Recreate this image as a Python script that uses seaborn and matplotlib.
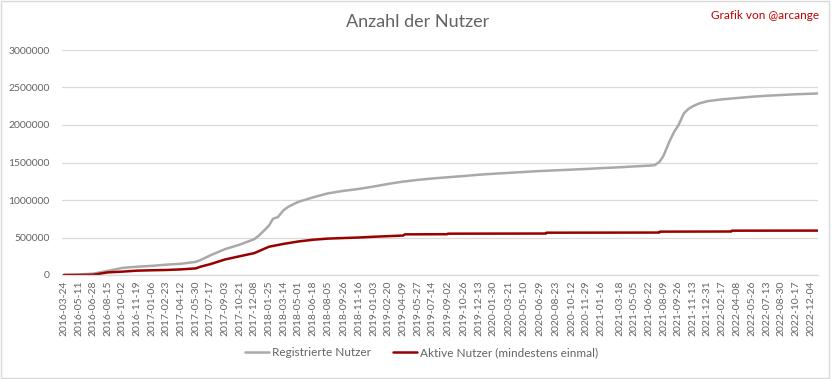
import matplotlib
matplotlib.use("Agg")
import matplotlib.pyplot as plt
import seaborn as sns
import pandas as pd
from matplotlib.ticker import FuncFormatter
from matplotlib.patches import Rectangle

# ---------------- data ----------------
tick_labels = [
    "2016-03-24", "2016-05-11", "2016-06-28", "2016-08-15", "2016-10-02", "2016-11-19",
    "2017-01-06", "2017-02-23", "2017-04-12", "2017-05-30", "2017-07-17", "2017-09-03",
    "2017-10-21", "2017-12-08", "2018-01-25", "2018-03-14", "2018-05-01", "2018-06-18",
    "2018-08-05", "2018-09-26", "2018-11-16", "2019-01-03", "2019-02-20", "2019-04-09",
    "2019-05-27", "2019-07-14", "2019-09-02", "2019-10-26", "2019-12-13", "2020-01-30",
    "2020-03-21", "2020-05-10", "2020-06-29", "2020-08-23", "2020-10-12", "2020-11-29",
    "2021-01-16", "2021-03-18", "2021-05-05", "2021-06-22", "2021-08-09", "2021-09-26",
    "2021-11-13", "2021-12-31", "2022-02-17", "2022-04-08", "2022-05-26", "2022-07-13",
    "2022-08-30", "2022-10-17", "2022-12-04",
]

reg_dates = [
    "2016-03-24", "2016-05-11", "2016-06-28", "2016-08-15", "2016-10-02", "2016-11-19",
    "2017-01-06", "2017-02-23", "2017-04-12", "2017-05-30", "2017-06-15", "2017-07-17",
    "2017-09-03", "2017-10-21", "2017-12-08", "2017-12-24", "2018-01-15", "2018-01-25",
    "2018-02-07", "2018-02-23", "2018-03-14", "2018-03-30", "2018-05-01", "2018-06-18",
    "2018-08-05", "2018-09-26", "2018-11-16", "2019-01-03", "2019-02-20", "2019-04-09",
    "2019-05-27", "2019-07-14", "2019-09-02", "2019-10-26", "2019-12-13", "2020-01-30",
    "2020-03-21", "2020-05-10", "2020-06-29", "2020-08-23", "2020-10-12", "2020-11-29",
    "2021-01-16", "2021-03-18", "2021-05-05", "2021-06-22", "2021-07-11", "2021-07-27",
    "2021-08-09", "2021-08-28", "2021-09-13", "2021-09-26", "2021-10-15", "2021-10-28",
    "2021-11-13", "2021-12-02", "2021-12-31", "2022-02-17", "2022-04-08", "2022-05-26",
    "2022-07-13", "2022-08-30", "2022-10-17", "2022-12-04", "2022-12-26",
]
reg_values = [
    0, 8000, 18000, 55000, 95000, 110000,
    122000, 138000, 150000, 175000, 200000, 262000,
    345000, 405000, 478000, 530000, 618000, 660000,
    750000, 772000, 865000, 912000, 975000, 1035000,
    1088000, 1122000, 1148000, 1180000, 1215000, 1245000,
    1268000, 1287000, 1303000, 1320000, 1337000, 1350000,
    1362000, 1374000, 1386000, 1396000, 1405000, 1414000,
    1425000, 1436000, 1448000, 1458000, 1464000, 1509000,
    1590000, 1776000, 1911000, 1990000, 2156000, 2209000,
    2250000, 2285000, 2318000, 2342000, 2360000, 2377000,
    2390000, 2400000, 2410000, 2417000, 2420000,
]

act_dates = [
    "2016-03-24", "2016-05-11", "2016-06-28", "2016-08-15", "2016-10-02", "2016-11-19",
    "2017-01-06", "2017-02-23", "2017-04-12", "2017-05-30", "2017-06-15", "2017-07-17",
    "2017-09-03", "2017-10-21", "2017-12-08", "2018-01-25", "2018-03-14", "2018-05-01",
    "2018-06-18", "2018-08-05", "2018-09-26", "2018-11-16", "2019-01-03", "2019-02-20",
    "2019-04-09", "2019-04-15", "2019-09-01", "2019-09-03", "2020-07-20", "2020-07-22",
    "2021-07-26", "2021-07-28", "2022-03-19", "2022-03-21", "2022-12-26",
]
act_values = [
    0, 0, 3000, 35000, 45000, 58000,
    63000, 67000, 75000, 88000, 111000, 145000,
    207000, 250000, 292000, 377000, 415000, 447000,
    470000, 485000, 493000, 500000, 510000, 518000,
    526000, 542000, 544000, 551000, 553000, 564000,
    566000, 578000, 580000, 591000, 592000,
]

series_names = ["Registrierte Nutzer", "Aktive Nutzer (mindestens einmal)"]
title_text = "Anzahl der Nutzer"
credit_text = "Grafik von @arcange"

# ---------------- plot ----------------
sns.set_theme(style="white")
plt.rcParams["font.family"] = ["Lato", "DejaVu Sans"]

txt = "#636363"
fig = plt.figure(figsize=(8.32, 3.79), dpi=100)
ax = fig.add_axes([62 / 832, 1 - 275 / 379, (818 - 62) / 832, (275 - 50) / 379])

reg_df = pd.DataFrame({"Datum": pd.to_datetime(reg_dates), "Nutzer": reg_values})
act_df = pd.DataFrame({"Datum": pd.to_datetime(act_dates), "Nutzer": act_values})

sns.lineplot(data=reg_df, x="Datum", y="Nutzer", color="#a9a9a9", linewidth=1.8,
             ax=ax, label=series_names[0])
sns.lineplot(data=act_df, x="Datum", y="Nutzer", color="#990000", linewidth=1.8,
             ax=ax, label=series_names[1])

ax.set_ylim(0, 3000000)
ax.set_yticks(list(range(0, 3000001, 500000)))
ax.yaxis.set_major_formatter(FuncFormatter(lambda v, p: f"{int(v)}"))
ax.set_xlim(pd.Timestamp("2016-03-18"), pd.Timestamp("2022-12-28"))
ax.set_xticks(pd.to_datetime(tick_labels))
ax.set_xticklabels(tick_labels, rotation=90)

ax.set_xlabel("")
ax.set_ylabel("")
ax.grid(axis="y", color="#d9d9d9", linewidth=0.9)
ax.grid(axis="x", visible=False)
for s in ["top", "right", "left"]:
    ax.spines[s].set_visible(False)
ax.spines["bottom"].set_color("#d9d9d9")
ax.spines["bottom"].set_linewidth(0.9)
ax.tick_params(axis="both", length=0, colors=txt, labelsize=7.5)
ax.tick_params(axis="y", pad=9)
ax.tick_params(axis="x", pad=4)

ax.legend_.remove()
handles, labels = ax.get_legend_handles_labels()
fig.legend(handles, labels, loc="center", bbox_to_anchor=(0.507, 0.069), ncol=2,
           frameon=False, fontsize=8.5, handlelength=2.0, columnspacing=1.9,
           handletextpad=0.25, labelcolor=txt)

fig.text(0.502, 0.942, title_text, ha="center", va="center", fontsize=13, color=txt)
fig.text(0.985, 0.958, credit_text, ha="right", va="center", fontsize=8.5, color="#c00000")

fig.patches.append(Rectangle((0.5 / 832, 1 / 379), 828 / 832, 377 / 379,
                             transform=fig.transFigure, fill=False,
                             edgecolor="#d9d9d9", linewidth=1.0))

fig.savefig("out.png", dpi=100)
